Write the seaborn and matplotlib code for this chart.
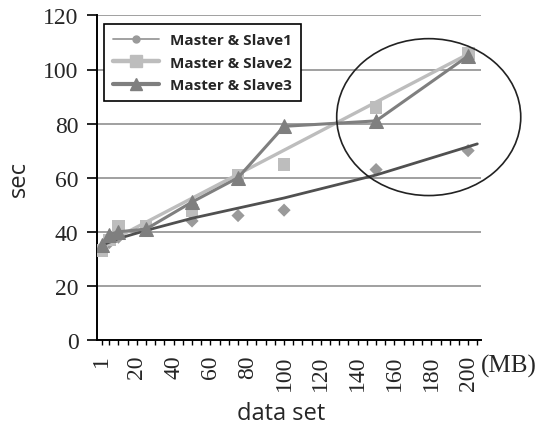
import numpy as np
import pandas as pd
import matplotlib
matplotlib.use("Agg")
import matplotlib.pyplot as plt
import seaborn as sns
from matplotlib.lines import Line2D
from matplotlib.patches import Ellipse

# ---- data ----
data_sizes = [1, 5, 10, 25, 50, 75, 100, 150, 200]
slave1 = [34, 36, 38, 41, 44, 46, 48, 63, 70]
slave2 = [33, 37, 42, 42, 48, 61, 65, 86, 106]
slave3 = [35, 39, 40, 41, 51, 60, 79, 81, 105]
trend1_x = [1, 10, 25, 50, 100, 150, 205]
trend1_y = [35, 37.5, 40.5, 45, 52.5, 61, 72.5]
trend2_x = [1, 200]
trend2_y = [35, 105.7]
series_labels = ["Master & Slave1", "Master & Slave2", "Master & Slave3"]
x_tick_values = [1, 20, 40, 60, 80, 100, 120, 140, 160, 180, 200]
y_tick_values = [0, 20, 40, 60, 80, 100, 120]
x_unit = "(MB)"
x_label = "data set"
y_label = "sec"

sns.set_theme(style="white")
plt.rcParams["font.family"] = ["Liberation Serif", "DejaVu Serif"]
SERIF = "Liberation Serif"
SANS = "Open Sans"

fig = plt.figure(figsize=(5.43, 4.35), dpi=100)
ax = fig.add_axes([96.5 / 543, 1 - 341 / 435, (481 - 96.5) / 543, (341 - 16.4) / 435])

c1_mark = "#9a9a9a"
c1_trend = "#505050"
c2 = "#bdbdbd"
c3 = "#7f7f7f"

sns.scatterplot(x=data_sizes, y=slave1, marker="D", s=45, color=c1_mark,
                edgecolor="none", ax=ax, zorder=3)
sns.scatterplot(x=data_sizes, y=slave2, marker="s", s=85, color=c2,
                edgecolor="none", ax=ax, zorder=3)
sns.lineplot(x=trend2_x, y=trend2_y, color=c2, lw=2.4, ax=ax, zorder=4)
sns.lineplot(x=trend1_x, y=trend1_y, color=c1_trend, lw=2.0, ax=ax, zorder=4)
sns.lineplot(x=data_sizes, y=slave3, color=c3, lw=2.2, marker="^", markersize=10,
             markeredgecolor=c3, ax=ax, zorder=5)

ax.set_xlim(-1.9, 207)
ax.set_ylim(0, 120)
ax.set_yticks(y_tick_values)
ax.set_yticklabels([str(v) for v in y_tick_values], fontsize=17, family=SERIF)
ax.set_xticks(x_tick_values)
ax.set_xticklabels([str(v) for v in x_tick_values], fontsize=17, rotation=90,
                   family=SERIF)
minor = [v for v in range(5, 206, 5) if v % 20 != 0]
ax.set_xticks(minor, minor=True)

ax.tick_params(axis="y", which="major", direction="out", length=7, width=1.2,
               color="black", pad=6, left=True)
ax.tick_params(axis="x", which="both", direction="out", length=3.5, width=1.0,
               color="black", pad=7, bottom=True)

ax.yaxis.grid(True, color="#a0a0a0", lw=1.4)
ax.xaxis.grid(False)
ax.set_axisbelow(True)
for s in ["top", "right"]:
    ax.spines[s].set_visible(False)
for s in ["left", "bottom"]:
    ax.spines[s].set_color("black")
    ax.spines[s].set_linewidth(1.4)

ax.set_xlabel(x_label, fontsize=17, family=SANS)
ax.xaxis.set_label_coords((281 - 96.5) / 384.5, (341 - 402) / 324.6)
ax.set_ylabel(y_label, fontsize=17, family=SANS)
ax.yaxis.set_label_coords((31 - 96.5) / 384.5, 0.5)

ax.text(1.0, (341 - 366) / 324.6, x_unit, transform=ax.transAxes,
        fontsize=18, family=SERIF, ha="left", va="center")

ell = Ellipse((178.6, 82.4), width=100, height=58, transform=ax.transData,
              fill=False, edgecolor="#222222", lw=1.2, clip_on=False, zorder=6)
ax.add_patch(ell)

handles = [
    Line2D([], [], color=c1_mark, lw=1.3, marker="o", markersize=5),
    Line2D([], [], color=c2, lw=3.2, marker="s", markersize=9),
    Line2D([], [], color=c3, lw=3.0, marker="^", markersize=9),
]
leg = ax.legend(handles, series_labels, loc="upper left", bbox_to_anchor=(0.02, 0.973),
                borderaxespad=0, frameon=True, fancybox=False, framealpha=1,
                edgecolor="black", handlelength=3.0,
                prop={"family": SANS, "weight": "bold", "size": 11},
                borderpad=0.6, labelspacing=0.55, handletextpad=0.7)
leg.get_frame().set_linewidth(1.2)
leg.set_zorder(10)

fig.savefig("out.png", dpi=100)
